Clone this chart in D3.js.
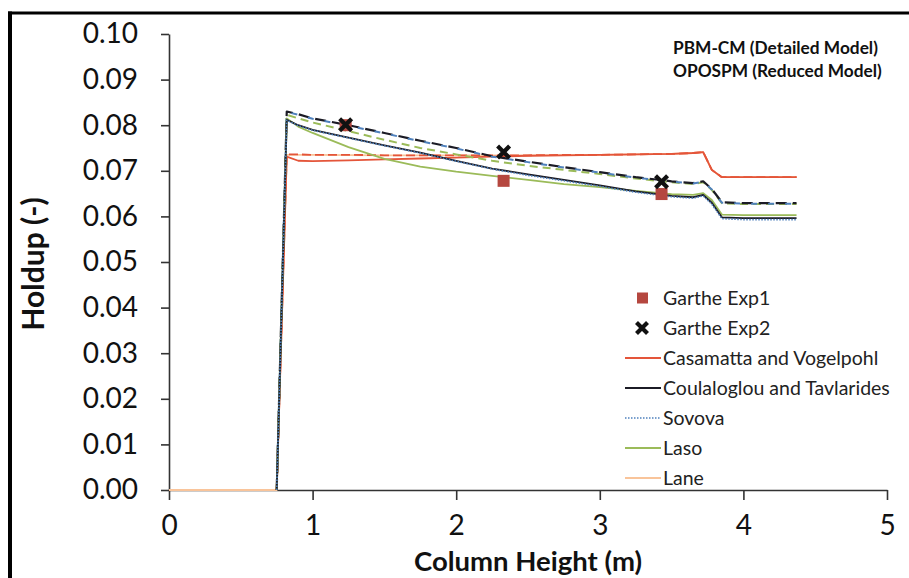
<!DOCTYPE html>
<html><head><meta charset="utf-8">
<script src="https://cdn.jsdelivr.net/npm/d3@7"></script>
<style>
html,body{margin:0;padding:0;background:#fff;}
svg{display:block;}
text{font-family:Lato,"Open Sans",sans-serif;}
</style></head>
<body>
<svg id="chart" width="909" height="578"></svg>
<script>
// ---------- data ----------
const xTicks = [0, 1, 2, 3, 4, 5];
const yTicks = [0, 0.01, 0.02, 0.03, 0.04, 0.05, 0.06, 0.07, 0.08, 0.09, 0.10];

const expHeight = [1.23, 2.33, 3.43];
const exp1Holdup = [0.0800, 0.0678, 0.0649];
const exp2Holdup = [0.0801, 0.0741, 0.0676];

const laneHeight = [0, 0.75, 0.82, 1.0, 1.5, 2.0, 2.5, 3.0, 3.5, 3.65, 3.72, 3.78, 3.85, 4.37];
const laneHoldup = [0, 0, 0.0735, 0.0735, 0.0734, 0.0734, 0.0734, 0.0735, 0.0737, 0.0739, 0.0741, 0.0702, 0.0686, 0.0686];

const height = [0.75, 0.82, 0.9, 1.0, 1.25, 1.5, 1.75, 2.0, 2.25, 2.5, 2.75, 3.0, 3.25, 3.5, 3.65, 3.72, 3.78, 3.85, 4.0, 4.2, 4.37];
const casamattaPBM  = [0, 0.0731, 0.0722, 0.0721, 0.0723, 0.0725, 0.0727, 0.0729, 0.0731, 0.0733, 0.0734, 0.0735, 0.0736, 0.0737, 0.0739, 0.0741, 0.0702, 0.0686, 0.0686, 0.0686, 0.0686];
const casamattaRed  = [0, 0.0736, 0.0736, 0.0735, 0.0735, 0.0734, 0.0734, 0.0734, 0.0734, 0.0734, 0.0735, 0.0735, 0.0736, 0.0737, 0.0739, 0.0741, 0.0702, 0.0686, 0.0686, 0.0686, 0.0686];
const coulaPBM      = [0, 0.0812, 0.0800, 0.0790, 0.0773, 0.0756, 0.0740, 0.0722, 0.0705, 0.0692, 0.0680, 0.0668, 0.0655, 0.0645, 0.0642, 0.0647, 0.0630, 0.0598, 0.0596, 0.0596, 0.0596];
const sovovaPBM     = [0, 0.0811, 0.0799, 0.0789, 0.0772, 0.0755, 0.0739, 0.0721, 0.0704, 0.0690, 0.0678, 0.0666, 0.0653, 0.0643, 0.0640, 0.0645, 0.0627, 0.0595, 0.0593, 0.0593, 0.0593];
const coulaRed      = [0, 0.0830, 0.0824, 0.0815, 0.0800, 0.0783, 0.0766, 0.0750, 0.0732, 0.0720, 0.0708, 0.0697, 0.0686, 0.0677, 0.0673, 0.0677, 0.0660, 0.0631, 0.0629, 0.0629, 0.0629];
const sovovaRed     = [0, 0.0829, 0.0823, 0.0814, 0.0799, 0.0782, 0.0765, 0.0749, 0.0731, 0.0719, 0.0707, 0.0696, 0.0685, 0.0676, 0.0672, 0.0676, 0.0659, 0.0630, 0.0628, 0.0628, 0.0628];
const lasoPBM       = [0, 0.0815, 0.0797, 0.0783, 0.0752, 0.0726, 0.0709, 0.0698, 0.0689, 0.0680, 0.0671, 0.0664, 0.0656, 0.0649, 0.0647, 0.0651, 0.0636, 0.0604, 0.0603, 0.0603, 0.0603];
const lasoRed       = [0, 0.0823, 0.0815, 0.0806, 0.0787, 0.0768, 0.0750, 0.0736, 0.0722, 0.0711, 0.0702, 0.0693, 0.0683, 0.0675, 0.0671, 0.0675, 0.0658, 0.0629, 0.0627, 0.0627, 0.0627];

const legendLabels = ["Garthe Exp1", "Garthe Exp2", "Casamatta and Vogelpohl", "Coulaloglou and Tavlarides", "Sovova", "Laso", "Lane"];
const noteLines = ["PBM-CM  (Detailed Model)", "OPOSPM (Reduced Model)"];

// ---------- styles ----------
const C = {red:"#e4553a", black:"#1b1b25", blue:"#4f81bd", green:"#9bbb59", lane:"#f9c49a", exp1:"#b5473f"};

const svg = d3.select("#chart");
const x = d3.scaleLinear().domain([0, 5]).range([169, 887]);
const y = d3.scaleLinear().domain([0, 0.10]).range([490, 34]);

// frame
svg.append("line").attr("x1", 8).attr("x2", 909).attr("y1", 13).attr("y2", 13).attr("stroke", "#000").attr("stroke-width", 3);
svg.append("line").attr("x1", 10).attr("x2", 10).attr("y1", 11.5).attr("y2", 578).attr("stroke", "#000").attr("stroke-width", 4);

// axes
const yAxis = d3.axisLeft(y).tickValues(yTicks).tickFormat(d3.format(".2f")).tickSize(8).tickSizeOuter(0).tickPadding(23);
const xAxis = d3.axisBottom(x).tickValues(xTicks).tickFormat(d3.format("d")).tickSize(10).tickSizeOuter(0).tickPadding(15);

const gy = svg.append("g").attr("transform", `translate(${x(0)},0)`).call(yAxis);
const gx = svg.append("g").attr("transform", `translate(0,${y(0)})`).call(xAxis);
[gx, gy].forEach(g => {
  g.select(".domain").attr("stroke", "#333").attr("stroke-width", 1.6);
  g.selectAll(".tick line").attr("stroke", "#333").attr("stroke-width", 1.6);
  g.selectAll(".tick text").attr("fill", "#111").style("font-size", "28px").style("font-family", "Lato, sans-serif");
});

// lines
const line = d3.line().x(d => x(d[0])).y(d => y(d[1]));
function series(xs, ys){ return xs.map((v, i) => [v, ys[i]]); }
function draw(xs, ys, color, width, dash, offset){
  svg.append("path").datum(series(xs, ys)).attr("d", line)
    .attr("fill", "none").attr("stroke", color).attr("stroke-width", width)
    .attr("stroke-dasharray", dash || null).attr("stroke-dashoffset", offset || 0)
    .attr("stroke-linejoin", "round");
}
draw(laneHeight, laneHoldup, C.lane, 1.8);
draw(height, casamattaPBM, C.red, 1.8);
draw(height, casamattaRed, C.red, 1.8, "9,4");
draw(height, lasoRed, C.green, 2, "8,5");
draw(height, coulaRed, C.black, 2.2, "11,6");
draw(height, sovovaRed, C.blue, 2, "6,11", 8);
draw(height, lasoPBM, C.green, 1.8);
draw(height, coulaPBM, C.black, 1.8);
draw(height, sovovaPBM, C.blue, 1.6, "1.5,1.5");

// experimental markers
svg.append("g").selectAll("rect").data(expHeight.map((h, i) => [h, exp1Holdup[i]])).join("rect")
  .attr("x", d => x(d[0]) - 6).attr("y", d => y(d[1]) - 6).attr("width", 12).attr("height", 12).attr("fill", C.exp1);
function xMark(g, cx, cy, r){
  g.append("path").attr("d", `M${cx - r},${cy - r}L${cx + r},${cy + r}M${cx - r},${cy + r}L${cx + r},${cy - r}`)
    .attr("stroke", "#111").attr("stroke-width", 4.2).attr("stroke-linecap", "butt");
}
const gX = svg.append("g");
expHeight.forEach((h, i) => xMark(gX, x(h), y(exp2Holdup[i]), 6));

// axis titles
svg.append("text").attr("x", 528).attr("y", 571).attr("text-anchor", "middle")
  .style("font-size", "27.5px").style("font-weight", "bold").attr("fill", "#111").text("Column Height (m)");
svg.append("text").attr("transform", "translate(44,264) rotate(-90)").attr("text-anchor", "middle")
  .style("font-size", "30px").style("font-weight", "bold").attr("fill", "#111").text("Holdup (-)");

// note
noteLines.forEach((t, i) => svg.append("text").attr("x", 673).attr("y", 54 + i * 23)
  .style("font-size", "17.3px").style("font-weight", "bold").attr("fill", "#111").text(t));

// legend
const lg = svg.append("g");
legendLabels.forEach((t, i) => {
  const cy = 298 + i * 30;
  lg.append("text").attr("x", 663).attr("y", cy + 7).style("font-size", "19.5px").attr("fill", "#222").text(t);
  if (i === 0) {
    lg.append("rect").attr("x", 637).attr("y", cy - 5.5).attr("width", 11).attr("height", 11).attr("fill", C.exp1);
  } else if (i === 1) {
    xMark(lg, 642, cy, 5.5);
  } else {
    const col = [null, null, C.red, C.black, C.blue, C.green, C.lane][i];
    lg.append("line").attr("x1", 625).attr("x2", 661).attr("y1", cy).attr("y2", cy)
      .attr("stroke", col).attr("stroke-width", i === 4 ? 1.6 : 1.8).attr("stroke-dasharray", i === 4 ? "1.5,1.5" : null);
  }
});
</script>
</body></html>
